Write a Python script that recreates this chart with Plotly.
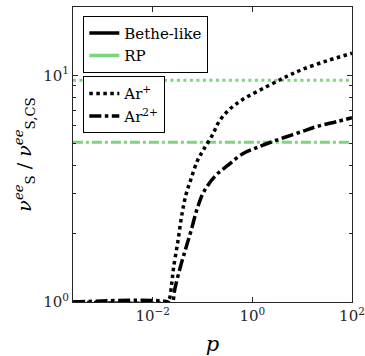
import plotly.graph_objects as go

# ---- data ----
p_ar1 = [2.5e-4, 0.018, 0.021, 0.024, 0.026, 0.032, 0.039, 0.047, 0.058, 0.079,
         0.105, 0.16, 0.21, 0.33, 0.63, 2.0, 5.0, 10, 32, 100]
nu_ar1 = [1, 1, 1.02, 1.2, 1.4, 1.85, 2.47, 3.0, 3.46, 4.2,
          4.7, 5.48, 6.2, 7.0, 7.8, 8.94, 9.9, 10.6, 11.6, 12.5]

p_ar2 = [2.5e-4, 0.02, 0.024, 0.028, 0.036, 0.046, 0.058, 0.079, 0.105, 0.18,
         0.32, 0.63, 1.1, 2.0, 4.2, 10, 20, 50, 100]
nu_ar2 = [1, 1, 0.97, 1.15, 1.43, 1.72, 2.04, 2.6, 3.05, 3.6,
          4.0, 4.5, 4.75, 5.0, 5.3, 5.65, 5.95, 6.25, 6.5]

p_span = [2.5e-4, 100]
rp_ar1 = [9.5, 9.5]
rp_ar2 = [5.06, 5.06]

x_ticks = [1e-2, 1, 1e2]
x_ticktext = ["10<sup>−2</sup>", "10<sup>0</sup>", "10<sup>2</sup>"]
y_ticks = [1, 10]
y_ticktext = ["10<sup>0</sup>", "10<sup>1</sup>"]
y_minor = [2, 3, 4, 5, 6, 7, 8, 9, 20]

GREEN = "#7ad67a"
BLACK = "#000000"
FONT = "DejaVu Serif"

fig = go.Figure()

fig.add_trace(go.Scatter(x=p_span, y=rp_ar1, mode="lines", showlegend=False,
                         line=dict(color=GREEN, width=3, dash="3px,3.5px")))
fig.add_trace(go.Scatter(x=p_span, y=rp_ar2, mode="lines", showlegend=False,
                         line=dict(color=GREEN, width=3, dash="10px,3px,3px,3px")))
fig.add_trace(go.Scatter(x=p_ar1, y=nu_ar1, mode="lines", showlegend=False,
                         line=dict(color=BLACK, width=3.5, dash="3.5px,3.5px", shape="spline")))
fig.add_trace(go.Scatter(x=p_ar2, y=nu_ar2, mode="lines", showlegend=False,
                         line=dict(color=BLACK, width=3.5, dash="12px,3.5px,3.5px,3.5px", shape="spline")))

fig.add_trace(go.Scatter(x=[None], y=[None], mode="lines", name="Bethe-like",
                         line=dict(color=BLACK, width=3.5), legend="legend"))
fig.add_trace(go.Scatter(x=[None], y=[None], mode="lines", name="RP",
                         line=dict(color=GREEN, width=3.5), legend="legend"))
fig.add_trace(go.Scatter(x=[None], y=[None], mode="lines", name="Ar<sup>+</sup>",
                         line=dict(color=BLACK, width=3.5, dash="3.5px,3.5px"), legend="legend2"))
fig.add_trace(go.Scatter(x=[None], y=[None], mode="lines", name="Ar<sup>2+</sup>",
                         line=dict(color=BLACK, width=3.5, dash="12px,3.5px,3.5px,3.5px"), legend="legend2"))

fig.update_layout(
    width=365, height=356,
    margin=dict(l=73, r=13, t=7, b=54, autoexpand=False),
    paper_bgcolor="white", plot_bgcolor="white",
    font=dict(family=FONT, size=15, color="#000"),
)
fig.update_xaxes(type="log", showline=True, linecolor="#262626", linewidth=1, mirror="allticks",
                 ticks="inside", ticklen=5, tickcolor="#262626", showgrid=False, zeroline=False,
                 automargin=False, ticklabeloverflow="allow",
                 tickfont=dict(family=FONT, size=15, color="#262626"),
                 range=[-3.6, 2], tickmode="array", tickvals=x_ticks, ticktext=x_ticktext,
                 title_text="<i>p</i>", title_font_family=FONT, title_font_size=21,
                 title_standoff=16)
fig.update_yaxes(type="log", showline=True, linecolor="#262626", linewidth=1, mirror="allticks",
                 ticks="inside", ticklen=5, tickcolor="#262626", showgrid=False, zeroline=False,
                 automargin=False, ticklabeloverflow="allow",
                 tickfont=dict(family=FONT, size=15, color="#262626"),
                 range=[0, 1.301], tickmode="array", tickvals=y_ticks, ticktext=y_ticktext,
                 minor=dict(tickmode="array", tickvals=y_minor, ticks="inside", ticklen=3,
                            tickcolor="#262626"),
                 title_text="<i>ν</i><sup><i>ee</i></sup><sub>S</sub> / <i>ν</i><sup><i>ee</i></sup><sub>S,CS</sub>",
                 title_font_family=FONT, title_font_size=19, title_standoff=6)

fig.update_layout(
    legend=dict(x=0.037, y=0.97, xanchor="left", yanchor="top", bgcolor="white",
                bordercolor="#000", borderwidth=1, font=dict(family=FONT, size=15),
                tracegroupgap=0, itemwidth=30),
    legend2=dict(x=0.037, y=0.765, xanchor="left", yanchor="top", bgcolor="white",
                 bordercolor="#000", borderwidth=1, font=dict(family=FONT, size=15),
                 tracegroupgap=0, itemwidth=30),
)

fig.write_html("out.html")
